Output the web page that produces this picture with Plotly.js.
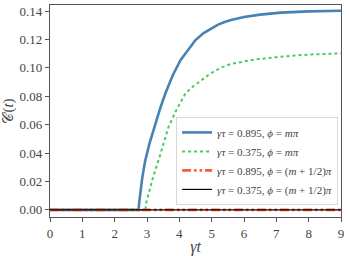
<!DOCTYPE html>
<html><head><meta charset="utf-8">
<script src="https://cdn.plot.ly/plotly-3.0.1.min.js"></script>
<style>html,body{margin:0;padding:0;background:#fff}#c{width:349px;height:256px}</style>
</head><body><div id="c"></div>
<script>
// gamma*tau = 0.895, phi = m*pi
const tBlue = [0, 2.74, 2.76, 2.79, 2.85, 2.9, 2.95, 3.08, 3.23, 3.4, 3.57, 3.8, 4.04, 4.3, 4.5, 4.75, 5.0, 5.2, 5.4, 5.6, 6.0, 6.5, 7.14, 8, 9];
const cBlue = [0, 0, 0.0055, 0.0117, 0.022, 0.029, 0.0352, 0.047, 0.0586, 0.071, 0.0821, 0.095, 0.1056, 0.114, 0.1196, 0.1245, 0.128, 0.1305, 0.1323, 0.1337, 0.1358, 0.1375, 0.1389, 0.1398, 0.1403];
// gamma*tau = 0.375, phi = m*pi
const tGreen = [0, 2.95, 2.98, 3.05, 3.2, 3.36, 3.5, 3.67, 3.9, 4.19, 4.4, 4.6, 4.97, 5.3, 5.6, 6.3, 7.14, 8, 9];
const cGreen = [0, 0, 0.0055, 0.0117, 0.024, 0.0352, 0.046, 0.0586, 0.070, 0.0821, 0.0865, 0.0898, 0.0962, 0.1003, 0.1028, 0.1058, 0.1079, 0.1094, 0.1103];
// phi = (m+1/2)pi : identically zero
const tZero = [0, 9];
const cRed = [0, 0];
const cBlack = [0, 0];
const yTicks = [0, 0.02, 0.04, 0.06, 0.08, 0.10, 0.12, 0.14];
const xTicks = [0, 1, 2, 3, 4, 5, 6, 7, 8, 9];

const F = 'Liberation Serif';
const traces = [
  {x: tBlue, y: cBlue, mode: 'lines', name: '<i>γτ</i> = 0.895, <i>ϕ</i> = <i>mπ</i>',
   line: {color: '#4682b4', width: 2.6}},
  {x: tGreen, y: cGreen, mode: 'lines', name: '<i>γτ</i> = 0.375, <i>ϕ</i> = <i>mπ</i>',
   line: {color: '#4cc766', width: 2, dash: 'dot'}},
  {x: tZero, y: cRed, mode: 'lines', name: '<i>γτ</i> = 0.895, <i>ϕ</i> = (<i>m</i> + 1/2)<i>π</i>',
   line: {color: '#ff5a36', width: 2.6, dash: '9px,3px,2.5px,3px,2.5px,3px'}},
  {x: tZero, y: cBlack, mode: 'lines', name: '<i>γτ</i> = 0.375, <i>ϕ</i> = (<i>m</i> + 1/2)<i>π</i>',
   line: {color: '#000000', width: 1.2}}
];
const layout = {
  width: 349, height: 256,
  margin: {l: 50, r: 8, t: 5, b: 39},
  paper_bgcolor: '#fff', plot_bgcolor: '#fff',
  font: {family: F, size: 13, color: '#444'},
  showlegend: true,
  legend: {x: 0.99, xanchor: 'right', y: 0.057, yanchor: 'bottom',
    bgcolor: 'rgba(255,255,255,0.85)', bordercolor: '#d8d8d8', borderwidth: 1,
    font: {family: F, size: 11, color: '#444'}, tracegroupgap: 0, itemwidth: 30},
  xaxis: {range: [0, 9], tickvals: xTicks, ticks: 'outside', ticklen: 4, tickcolor: '#555',
    showline: true, linecolor: '#555', linewidth: 1.2, mirror: true, showgrid: false, zeroline: false,
    tickfont: {family: F, size: 13, color: '#444'},
    title: {text: '<i>γt</i>', font: {family: F, size: 16, color: '#444'}, standoff: 2}},
  yaxis: {range: [-0.005, 0.1443], tickvals: yTicks, tickformat: '.2f', ticks: 'outside', ticklen: 4, tickcolor: '#555',
    showline: true, linecolor: '#555', linewidth: 1.2, mirror: true, showgrid: false, zeroline: false,
    tickfont: {family: F, size: 13, color: '#444'},
    title: {text: '𝒞(<i>t</i>)', font: {family: F, size: 15, color: '#444'}, standoff: 5}}
};
Plotly.newPlot('c', traces, layout, {displayModeBar: false, staticPlot: true});
</script></body></html>
